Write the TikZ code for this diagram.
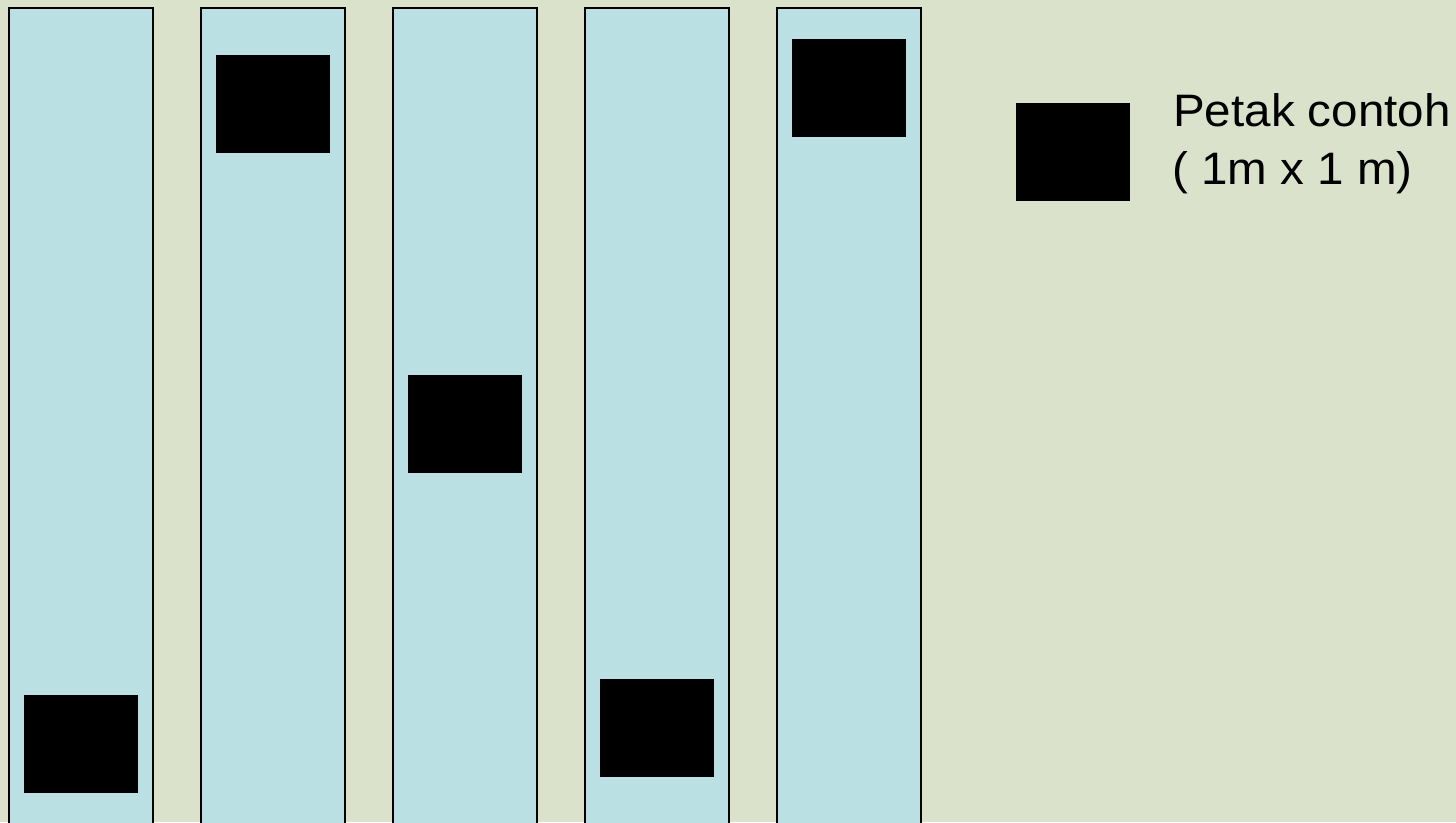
\documentclass[tikz,border=0pt]{standalone}
\usepackage{fontspec}
\setmainfont{Liberation Sans}
\definecolor{bgc}{RGB}{218,226,204}
\definecolor{stripc}{RGB}{187,224,227}
\begin{document}
\begin{tikzpicture}[x=1pt,y=1pt,
  strip/.style={fill=stripc,draw=black,line width=1.6pt},
  plot/.style={fill=black,draw=none},
  lbl/.style={anchor=base west,inner sep=0pt,font=\fontsize{45.5}{52}\selectfont}]
\useasboundingbox (0,0) rectangle (1456,822);
\clip (0,0) rectangle (1456,822);
\fill[bgc] (0,0) rectangle (1456,822);
% strips (y measured from top: y_tikz = 822 - y)
\foreach \x in {9,201,393,585,777}{
  \draw[strip] (\x,-10) rectangle (\x+144,814);
}
% sample plots
\fill[plot] (24,{822-793}) rectangle (138,{822-695});
\fill[plot] (216,{822-153}) rectangle (330,{822-55});
\fill[plot] (408,{822-473}) rectangle (522,{822-375});
\fill[plot] (600,{822-777}) rectangle (714,{822-679});
\fill[plot] (792,{822-137}) rectangle (906,{822-39});
% legend
\fill[plot] (1016,{822-201}) rectangle (1130,{822-103});
\node[lbl] (l1) at (1173,{822-126.5}) {\scalebox{1.045}[1]{Petak contoh}};
\node[lbl] (l2) at (1172,{822-185}) {\scalebox{1.045}[1]{( 1m x 1 m)}};
\end{tikzpicture}
\end{document}
